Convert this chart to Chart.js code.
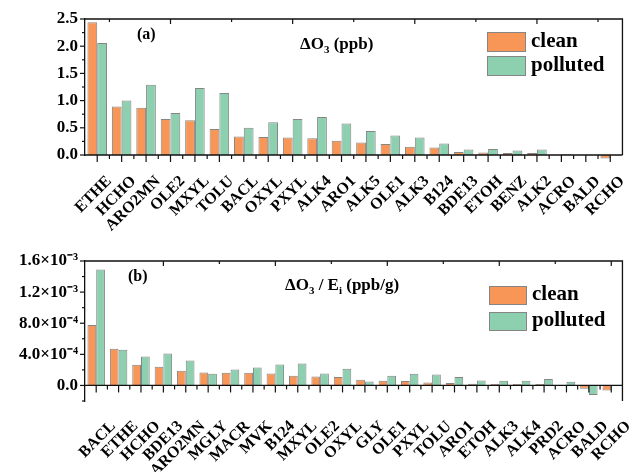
<!DOCTYPE html>
<html><head><meta charset="utf-8">
<script src="https://cdn.jsdelivr.net/npm/chart.js@4.4.1/dist/chart.umd.min.js"></script>
<style>
html,body{margin:0;padding:0;background:#fff;}
#wrap{position:relative;width:641px;height:472px;overflow:hidden;background:#fff;}
.pan{position:absolute;left:0;width:641px;height:236px;}
</style></head><body>
<div id="wrap">
<div class="pan" style="top:0"><canvas id="ca" width="641" height="236"></canvas></div>
<div class="pan" style="top:236px"><canvas id="cb" width="641" height="236"></canvas></div>
</div>
<script>
// ---------- data ----------
const seriesNames = ['clean', 'polluted'];

const catsA = ['ETHE','HCHO','ARO2MN','OLE2','MXYL','TOLU','BACL','OXYL','PXYL','ALK4','ARO1','ALK5','OLE1','ALK3','B124','BDE13','ETOH','BENZ','ALK2','ACRO','BALD','RCHO'];
const cleanA = [2.44,0.89,0.87,0.66,0.64,0.48,0.34,0.33,0.32,0.31,0.26,0.23,0.20,0.15,0.14,0.055,0.045,0.035,0.035,0.003,0.002,-0.065];
const pollutedA = [2.06,1.00,1.29,0.77,1.23,1.14,0.50,0.60,0.66,0.70,0.58,0.44,0.36,0.32,0.21,0.10,0.11,0.085,0.10,0.012,0.004,-0.005];
const yTickValsA = [0, 0.5, 1.0, 1.5, 2.0, 2.5];
const yTickLabelsA = ['0.0','0.5','1.0','1.5','2.0','2.5'];

const catsB = ['BACL','ETHE','HCHO','BDE13','ARO2MN','MGLY','MACR','MVK','B124','MXYL','OLE2','OXYL','GLY','OLE1','PXYL','TOLU','ARO1','ETOH','ALK3','ALK4','PRD2','ACRO','BALD','RCHO'];
const cleanB = [7.76e-4,4.72e-4,2.66e-4,2.40e-4,1.89e-4,1.67e-4,1.63e-4,1.63e-4,1.54e-4,1.24e-4,1.14e-4,1.07e-4,0.73e-4,0.60e-4,0.56e-4,0.39e-4,0.30e-4,0.21e-4,0.17e-4,0.17e-4,0.17e-4,0.02e-4,-0.43e-4,-0.64e-4];
const pollutedB = [14.9e-4,4.59e-4,3.73e-4,4.12e-4,3.22e-4,1.50e-4,2.06e-4,2.32e-4,2.70e-4,2.83e-4,1.52e-4,2.14e-4,0.51e-4,1.24e-4,1.50e-4,1.42e-4,1.07e-4,0.64e-4,0.60e-4,0.60e-4,0.82e-4,0.47e-4,-1.22e-4,-0.10e-4];
const yTickValsB = [0, 4e-4, 8e-4, 1.2e-3, 1.6e-3];
const yTickLabelsB = ['0.0','4.0×10⁻⁴','8.0×10⁻⁴','1.2×10⁻³','1.6×10⁻³'];

// ---------- style ----------
const SERIF = "'Liberation Serif','Times New Roman',serif";
const ORANGE = '#F79656';
const GREEN = '#8CD0B0';
const EDGE = '#858585';

function drawRich(ctx, x, yb, parts, size) {
  for (const p of parts) {
    const fs = p.sub ? Math.round(size * 0.62) : size;
    ctx.font = 'bold ' + fs + 'px ' + SERIF;
    ctx.fillText(p.t, x, yb + (p.sub ? size * 0.25 : 0));
    x += ctx.measureText(p.t).width;
  }
}

const framePlugin = {
  id: 'frame',
  afterDatasetsDraw(chart, args, o) {
    const ctx = chart.ctx, ca = chart.chartArea, x = chart.scales.x, y = chart.scales.y;
    const line = (x1, y1, x2, y2) => { ctx.beginPath(); ctx.moveTo(x1, y1); ctx.lineTo(x2, y2); ctx.stroke(); };
    ctx.save();
    ctx.strokeStyle = '#111';
    ctx.lineWidth = 1.3;
    const y0 = y.getPixelForValue(0);
    // top + right frame
    ctx.beginPath();
    ctx.moveTo(ca.left, ca.top); ctx.lineTo(ca.right, ca.top); ctx.lineTo(ca.right, ca.bottom);
    ctx.stroke();
    // zero axis
    line(ca.left, y0, ca.right, y0);
    // x ticks (outward, at y = 0)
    ctx.lineWidth = 1.2;
    const n = chart.data.labels.length;
    for (let i = 0; i < n; i++) { const px = x.getPixelForValue(i); line(px, y0, px, y0 + 7); }
    for (let i = 0; i < n - 1; i++) { const px = x.getPixelForValue(i + 0.5); line(px, y0, px, y0 + 4); }
    // y ticks (outward, major + minor)
    const cnt = Math.round((o.yMax - o.yMin) / o.yMinor);
    for (let k = 0; k <= cnt; k++) {
      const v = o.yMin + k * o.yMinor;
      const major = o.yVals.some(t => Math.abs(t - v) < o.yMinor * 1e-3);
      const py = y.getPixelForValue(v);
      line(ca.left - (major ? 5 : 3), py, ca.left, py);
    }
    // top inward ticks
    for (let v = o.topStart; v <= n - 1 + 1e-6; v += 2.5) {
      const px = x.getPixelForValue(v);
      const r = ((v - 3) % 5 + 5) % 5;
      line(px, ca.top, px, ca.top + (Math.abs(r) < 1e-6 ? 5 : 3));
    }
    // panel letter and title
    ctx.fillStyle = '#000';
    ctx.textBaseline = 'alphabetic';
    ctx.textAlign = 'left';
    ctx.font = 'bold 16px ' + SERIF;
    ctx.fillText(o.panel, o.panelX, o.panelY);
    drawRich(ctx, o.titleX, o.titleY, o.title, 17);
    // legend
    chart.data.datasets.forEach((ds, i) => {
      const bx = o.legX, by = o.legY + i * o.legGap;
      ctx.fillStyle = ds.backgroundColor;
      ctx.fillRect(bx, by, o.legW, o.legH);
      ctx.strokeStyle = EDGE; ctx.lineWidth = 1;
      ctx.strokeRect(bx + 0.5, by + 0.5, o.legW - 1, o.legH - 1);
      ctx.fillStyle = '#000';
      ctx.font = 'bold 21px ' + SERIF;
      ctx.fillText(ds.label, bx + o.legW + 5, by + o.legH - 5);
    });
    ctx.restore();
  }
};

function makeChart(id, cats, clean, polluted, cfg) {
  return new Chart(document.getElementById(id), {
    type: 'bar',
    data: {
      labels: cats,
      datasets: [
        { label: seriesNames[0], data: clean, backgroundColor: ORANGE, borderColor: EDGE, borderWidth: 1, clip: false,
          categoryPercentage: cfg.catPct, barPercentage: 1 },
        { label: seriesNames[1], data: polluted, backgroundColor: GREEN, borderColor: EDGE, borderWidth: 1, clip: false,
          categoryPercentage: cfg.catPct, barPercentage: 1 }
      ]
    },
    options: {
      responsive: false,
      animation: false,
      devicePixelRatio: 1,
      layout: { padding: { top: cfg.top, right: 8, left: 0, bottom: 0 } },
      plugins: { legend: { display: false }, tooltip: { enabled: false }, frame: cfg.frame },
      scales: {
        x: {
          type: 'category', offset: true,
          grid: { display: false, drawTicks: false },
          border: { display: false },
          ticks: { autoSkip: false, maxRotation: 45, minRotation: 45, padding: cfg.xPad, labelOffset: cfg.xOff,
                   color: '#000', font: { family: SERIF, weight: 'bold', size: 16 } },
          afterFit: s => { s.height = cfg.xH; }
        },
        y: {
          min: cfg.yMin, max: cfg.yMax,
          afterBuildTicks: s => { s.ticks = cfg.yVals.map(v => ({ value: v })); },
          grid: { display: false, drawTicks: false },
          border: { display: true, color: '#111', width: 1.3 },
          ticks: { padding: 7, color: '#000', font: { family: SERIF, weight: 'bold', size: 17 },
                   callback: (v, i) => cfg.yLabels[i] },
          afterFit: s => { s.width = 85; }
        }
      }
    },
    plugins: [framePlugin]
  });
}

makeChart('ca', catsA, cleanA, pollutedA, {
  top: 19, xH: 81, xPad: 17, xOff: 12, catPct: 0.8,
  yMin: 0, yMax: 2.5, yVals: yTickValsA, yLabels: yTickLabelsA,
  frame: { yMin: 0, yMax: 2.5, yMinor: 0.25, yVals: yTickValsA, topStart: 0.5,
           panel: '(a)', panelX: 137, panelY: 39,
           title: [{t: 'ΔO'}, {t: '3', sub: true}, {t: ' (ppb)'}], titleX: 300, titleY: 49,
           legX: 487, legY: 32, legGap: 24, legW: 39, legH: 20 }
});

makeChart('cb', catsB, cleanB, pollutedB, {
  top: 25, xH: 71, xPad: 16, xOff: 17, catPct: 0.78,
  yMin: -2e-4, yMax: 1.6e-3, yVals: yTickValsB, yLabels: yTickLabelsB,
  frame: { yMin: -2e-4, yMax: 1.6e-3, yMinor: 2e-4, yVals: yTickValsB, topStart: 3,
           panel: '(b)', panelX: 128, panelY: 45,
           title: [{t: 'ΔO'}, {t: '3', sub: true}, {t: ' / E'}, {t: 'i', sub: true}, {t: ' (ppb/g)'}], titleX: 285, titleY: 54,
           legX: 489, legY: 50, legGap: 26, legW: 38, legH: 19 }
});
</script>
</body></html>
